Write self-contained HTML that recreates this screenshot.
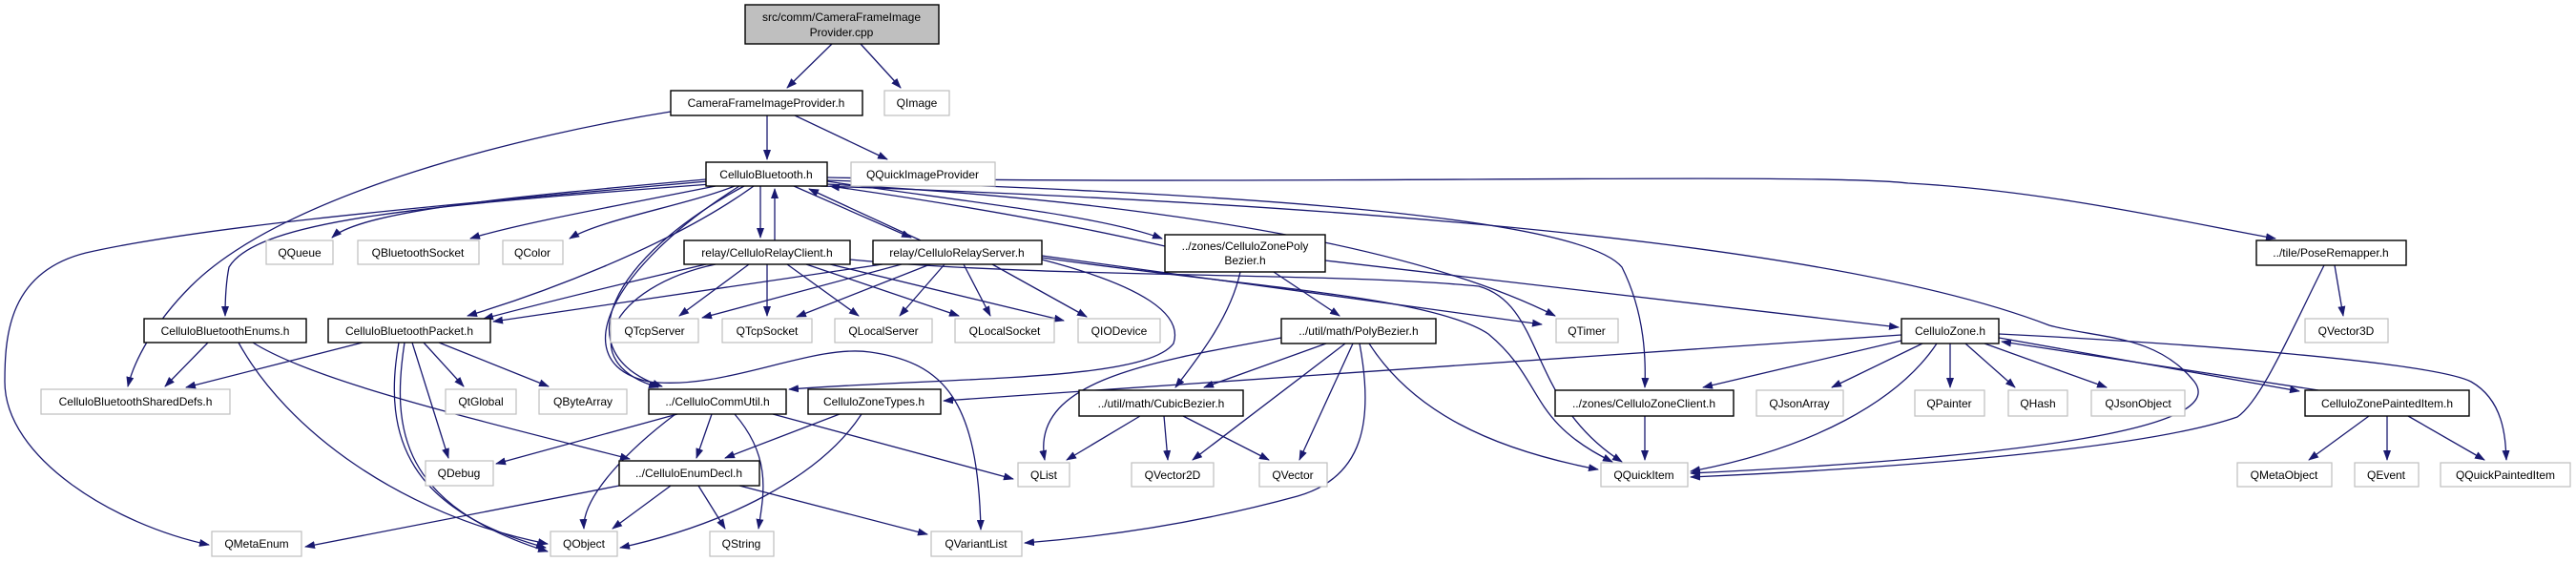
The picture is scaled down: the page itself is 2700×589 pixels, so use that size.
<!DOCTYPE html>
<html><head><meta charset="utf-8"><style>
html,body{margin:0;padding:0;background:#fff;}
svg{display:block;}
text{font-family:"Liberation Sans",sans-serif;font-size:12px;fill:#000;text-anchor:middle;}
.e{fill:none;stroke:#191970;stroke-width:1.3;marker-end:url(#a);}
.d{fill:#fff;stroke:#000;stroke-width:1.4;}
.g{fill:#fff;stroke:#bfbfbf;stroke-width:1.2;}
</style></head><body>
<svg width="2700" height="589" viewBox="0 0 2700 589" xmlns="http://www.w3.org/2000/svg">
<defs><marker id="a" markerUnits="userSpaceOnUse" markerWidth="11" markerHeight="8" refX="10" refY="4" orient="auto"><path d="M0,0 L11,4 L0,8 z" fill="#191970"/></marker></defs>
<g>
<path class="e" d="M872,46 L825,92"/>
<path class="e" d="M902,46 L944,92"/>
<path class="e" d="M804,121 L804,167"/>
<path class="e" d="M833,121 L930,167"/>
<path class="e" d="M703,117 C560,140 300,200 200,300 C160,340 140,380 134,405"/>
<path class="e" d="M740,188 C550,205 380,220 348,249"/>
<path class="e" d="M750,195 C650,215 540,235 493,250"/>
<path class="e" d="M770,195 C720,215 630,230 597,250"/>
<path class="e" d="M797,195 L797,249"/>
<path class="e" d="M812,252 L812,198"/>
<path class="e" d="M832,195 L955,249"/>
<path class="e" d="M965,252 L848,198"/>
<path class="e" d="M867,190 C1000,210 1150,225 1218,250"/>
<path class="e" d="M1221,258 C1100,230 960,208 870,195"/>
<path class="e" d="M867,186 C1300,195 1900,180 2000,192 C2150,200 2300,235 2385,250"/>
<path class="e" d="M745,193 C450,215 270,230 240,280 C236,300 236,320 236,331"/>
<path class="e" d="M742,190 C400,220 200,240 90,265 C10,285 5,350 5,400 C5,480 120,550 219,571"/>
<path class="e" d="M790,195 C700,260 560,310 490,331"/>
<path class="e" d="M780,195 C640,270 590,370 694,405"/>
<path class="e" d="M867,193 C1100,205 1450,240 1630,331"/>
<path class="e" d="M867,189 C1200,200 1650,220 1700,280 C1725,330 1725,380 1724,406"/>
<path class="e" d="M860,195 C1300,210 1900,245 2148,341 C2200,355 2260,350 2300,400 C2330,440 2200,475 1772,496"/>
<path class="e" d="M775,195 C640,280 590,380 680,400 C760,410 850,360 912,369 C990,380 1025,420 1028,555"/>
<path class="e" d="M740,277 C640,300 560,320 507,334"/>
<path class="e" d="M785,277 L712,331"/>
<path class="e" d="M804,277 L804,331"/>
<path class="e" d="M825,277 L900,331"/>
<path class="e" d="M845,277 L1005,331"/>
<path class="e" d="M870,277 L1115,336"/>
<path class="e" d="M891,272 C1100,292 1400,285 1550,300 C1620,320 1600,420 1700,484"/>
<path class="e" d="M750,277 C640,300 600,380 690,406"/>
<path class="e" d="M925,277 L517,337"/>
<path class="e" d="M945,277 L736,333"/>
<path class="e" d="M975,277 L835,332"/>
<path class="e" d="M990,277 L943,331"/>
<path class="e" d="M1010,277 L1038,331"/>
<path class="e" d="M1040,277 L1139,332"/>
<path class="e" d="M1092,268 L1616,340"/>
<path class="e" d="M1092,270 C1300,300 1500,310 1560,350 C1620,400 1600,440 1690,484"/>
<path class="e" d="M1092,272 C1200,300 1240,330 1230,360 C1200,400 1000,395 827,408"/>
<path class="e" d="M1389,273 L1990,343"/>
<path class="e" d="M1300,285 C1290,330 1260,370 1232,406"/>
<path class="e" d="M1335,285 L1404,331"/>
<path class="e" d="M1343,354 C1200,380 1080,400 1095,482"/>
<path class="e" d="M1390,360 L1262,406"/>
<path class="e" d="M1410,360 L1250,482"/>
<path class="e" d="M1418,360 L1362,482"/>
<path class="e" d="M1425,360 C1440,440 1430,500 1360,520 C1250,550 1150,563 1074,569"/>
<path class="e" d="M1435,360 C1480,430 1560,470 1675,492"/>
<path class="e" d="M1195,436 L1118,482"/>
<path class="e" d="M1220,436 L1224,482"/>
<path class="e" d="M1240,436 L1330,482"/>
<path class="e" d="M1724,436 L1724,482"/>
<path class="e" d="M1993,351 L989,420"/>
<path class="e" d="M1993,357 L1785,406"/>
<path class="e" d="M2015,360 L1920,406"/>
<path class="e" d="M2030,360 C1990,420 1900,470 1772,494"/>
<path class="e" d="M2044,360 L2044,406"/>
<path class="e" d="M2060,360 L2112,406"/>
<path class="e" d="M2080,360 L2208,406"/>
<path class="e" d="M2095,354 L2410,410"/>
<path class="e" d="M2430,409 L2098,358"/>
<path class="e" d="M2095,350 C2300,360 2550,380 2590,400 C2625,420 2626,460 2627,482"/>
<path class="e" d="M2483,436 L2420,482"/>
<path class="e" d="M2502,436 L2502,482"/>
<path class="e" d="M2524,436 L2604,482"/>
<path class="e" d="M2447,278 L2456,331"/>
<path class="e" d="M2436,278 C2400,350 2370,420 2345,437 C2250,470 2000,490 1772,500"/>
<path class="e" d="M218,359 L173,405"/>
<path class="e" d="M250,359 C300,450 420,540 574,570"/>
<path class="e" d="M265,359 C330,400 500,440 660,481"/>
<path class="e" d="M380,359 L195,406"/>
<path class="e" d="M444,359 L486,405"/>
<path class="e" d="M460,359 L575,405"/>
<path class="e" d="M432,359 L470,480"/>
<path class="e" d="M424,359 C410,450 420,530 574,578"/>
<path class="e" d="M418,359 C400,460 430,535 572,574"/>
<path class="e" d="M710,434 L520,486"/>
<path class="e" d="M746,434 L730,480"/>
<path class="e" d="M708,434 C660,470 610,520 612,554"/>
<path class="e" d="M770,434 C810,480 800,520 795,554"/>
<path class="e" d="M810,434 L1062,502"/>
<path class="e" d="M880,434 L760,480"/>
<path class="e" d="M903,434 C860,500 760,550 650,574"/>
<path class="e" d="M649,509 L320,573"/>
<path class="e" d="M703,509 L642,554"/>
<path class="e" d="M732,509 L760,554"/>
<path class="e" d="M775,509 L972,560"/>
</g>
<g>
<rect x="781" y="5" width="203" height="41" fill="#bfbfbf" stroke="#000" stroke-width="1.4"/>
<text x="882" y="22">src/comm/CameraFrameImage</text><text x="882" y="38">Provider.cpp</text>
<rect class="d" x="703" y="95" width="201" height="26"/><text x="803" y="112">CameraFrameImageProvider.h</text>
<rect class="g" x="927" y="95" width="68" height="26"/><text x="961" y="112">QImage</text>
<rect class="d" x="740" y="170" width="127" height="25"/><text x="803" y="187">CelluloBluetooth.h</text>
<rect class="g" x="892" y="170" width="151" height="25"/><text x="967" y="187">QQuickImageProvider</text>
<rect class="g" x="279" y="252" width="70" height="25"/><text x="314" y="269">QQueue</text>
<rect class="g" x="375" y="252" width="127" height="25"/><text x="438" y="269">QBluetoothSocket</text>
<rect class="g" x="527" y="252" width="63" height="25"/><text x="558" y="269">QColor</text>
<rect class="d" x="717" y="252" width="174" height="25"/><text x="804" y="269">relay/CelluloRelayClient.h</text>
<rect class="d" x="915" y="252" width="177" height="25"/><text x="1003" y="269">relay/CelluloRelayServer.h</text>
<rect class="d" x="1221" y="246" width="168" height="39"/><text x="1305" y="262">../zones/CelluloZonePoly</text><text x="1305" y="277">Bezier.h</text>
<rect class="d" x="2365" y="252" width="157" height="26"/><text x="2443" y="269">../tile/PoseRemapper.h</text>
<rect class="d" x="151" y="334" width="170" height="25"/><text x="236" y="351">CelluloBluetoothEnums.h</text>
<rect class="d" x="344" y="334" width="170" height="25"/><text x="429" y="351">CelluloBluetoothPacket.h</text>
<rect class="g" x="640" y="334" width="92" height="25"/><text x="686" y="351">QTcpServer</text>
<rect class="g" x="757" y="334" width="94" height="25"/><text x="804" y="351">QTcpSocket</text>
<rect class="g" x="875" y="334" width="102" height="25"/><text x="926" y="351">QLocalServer</text>
<rect class="g" x="1001" y="334" width="104" height="25"/><text x="1053" y="351">QLocalSocket</text>
<rect class="g" x="1130" y="334" width="86" height="25"/><text x="1173" y="351">QIODevice</text>
<rect class="d" x="1343" y="334" width="162" height="26"/><text x="1424" y="351">../util/math/PolyBezier.h</text>
<rect class="g" x="1631" y="334" width="65" height="25"/><text x="1663" y="351">QTimer</text>
<rect class="d" x="1993" y="334" width="102" height="26"/><text x="2044" y="351">CelluloZone.h</text>
<rect class="g" x="2416" y="334" width="87" height="25"/><text x="2459" y="351">QVector3D</text>
<rect class="g" x="43" y="408" width="198" height="26"/><text x="142" y="425">CelluloBluetoothSharedDefs.h</text>
<rect class="g" x="467" y="408" width="74" height="26"/><text x="504" y="425">QtGlobal</text>
<rect class="g" x="565" y="408" width="92" height="26"/><text x="611" y="425">QByteArray</text>
<rect class="d" x="680" y="408" width="144" height="26"/><text x="752" y="425">../CelluloCommUtil.h</text>
<rect class="d" x="847" y="408" width="139" height="26"/><text x="916" y="425">CelluloZoneTypes.h</text>
<rect class="d" x="1131" y="409" width="172" height="27"/><text x="1217" y="427">../util/math/CubicBezier.h</text>
<rect class="d" x="1630" y="409" width="187" height="27"/><text x="1723" y="427">../zones/CelluloZoneClient.h</text>
<rect class="g" x="1841" y="409" width="91" height="27"/><text x="1886" y="427">QJsonArray</text>
<rect class="g" x="2007" y="409" width="73" height="27"/><text x="2043" y="427">QPainter</text>
<rect class="g" x="2105" y="409" width="62" height="27"/><text x="2136" y="427">QHash</text>
<rect class="g" x="2192" y="409" width="98" height="27"/><text x="2241" y="427">QJsonObject</text>
<rect class="d" x="2416" y="409" width="172" height="27"/><text x="2502" y="427">CelluloZonePaintedItem.h</text>
<rect class="g" x="446" y="483" width="71" height="26"/><text x="481" y="500">QDebug</text>
<rect class="d" x="649" y="483" width="147" height="26"/><text x="722" y="500">../CelluloEnumDecl.h</text>
<rect class="g" x="1067" y="485" width="54" height="25"/><text x="1094" y="502">QList</text>
<rect class="g" x="1186" y="485" width="86" height="25"/><text x="1229" y="502">QVector2D</text>
<rect class="g" x="1320" y="485" width="71" height="25"/><text x="1355" y="502">QVector</text>
<rect class="g" x="1678" y="485" width="91" height="25"/><text x="1723" y="502">QQuickItem</text>
<rect class="g" x="2345" y="485" width="99" height="25"/><text x="2394" y="502">QMetaObject</text>
<rect class="g" x="2468" y="485" width="67" height="25"/><text x="2501" y="502">QEvent</text>
<rect class="g" x="2558" y="485" width="136" height="25"/><text x="2626" y="502">QQuickPaintedItem</text>
<rect class="g" x="222" y="557" width="94" height="26"/><text x="269" y="574">QMetaEnum</text>
<rect class="g" x="577" y="557" width="70" height="26"/><text x="612" y="574">QObject</text>
<rect class="g" x="744" y="557" width="67" height="26"/><text x="777" y="574">QString</text>
<rect class="g" x="976" y="557" width="95" height="26"/><text x="1023" y="574">QVariantList</text>
</g>
</svg>
</body></html>
